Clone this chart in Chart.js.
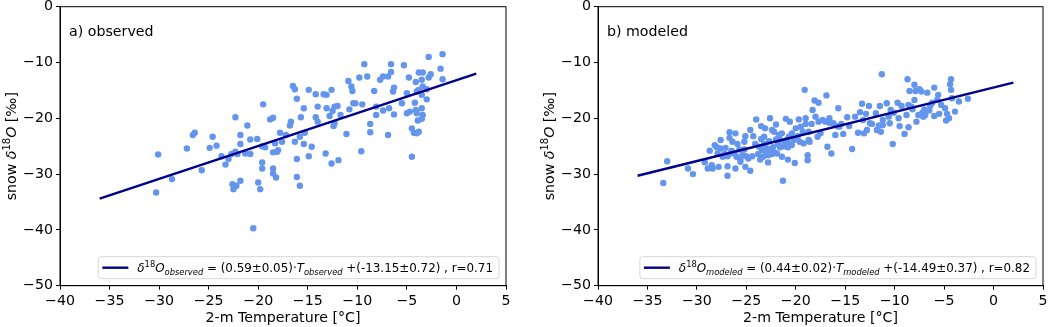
<!DOCTYPE html>
<html>
<head>
<meta charset="utf-8">
<script src="https://cdn.jsdelivr.net/npm/chart.js@4.4.1/dist/chart.umd.min.js"></script>
<style>
  body { margin: 0; background: #fff; }
  .panel { position: absolute; top: 0; width: 526px; height: 327px; }
</style>
</head>
<body>
<div class="panel" style="left:0"><canvas id="chartObserved"></canvas></div>
<div class="panel" style="left:526px"><canvas id="chartModeled"></canvas></div>
<script>
// axis ticks
var xTicks = [-40, -35, -30, -25, -20, -15, -10, -5, 0, 5];
var yTicks = [-50, -40, -30, -20, -10, 0];

// a) observed: 2-m temperature vs snow d18O
var obsT = [-30.3, -30.1, -28.7, -27.2, -26.6, -26.4, -25.7, -24.9, -24.6, -24.2, -23.7, -23.3, -23.0, -22.7, -22.6, -22.5, -22.3, -22.3, -22.2, -22.1,
  -21.8, -21.8, -21.8, -21.3, -21.1, -20.8, -20.8, -20.5, -20.1, -20.0, -19.8, -19.6, -19.6, -19.6, -19.5, -19.3, -18.8, -18.5, -18.5, -18.5,
  -18.5, -18.3, -18.1, -18.2, -18.0, -17.8, -17.6, -17.2, -16.8, -16.7, -16.5, -16.3, -16.3, -16.1, -16.1, -16.1, -15.8, -15.8, -15.7, -15.4,
  -15.4, -15.3, -14.9, -14.9, -14.6, -14.2, -14.2, -14.0, -14.0, -13.4, -13.2, -13.1, -13.1, -12.8, -12.6, -12.6, -12.5, -12.4, -12.3, -12.3,
  -12.0, -11.9, -11.7, -11.1, -10.9, -10.8, -10.6, -10.5, -10.4, -10.2, -9.8, -9.6, -9.5, -9.3, -9.0, -8.7, -8.7, -8.3, -8.1, -8.1,
  -7.7, -7.4, -7.4, -6.9, -6.9, -6.8, -6.6, -6.6, -6.4, -6.3, -6.3, -5.5, -5.3, -5.0, -5.0, -4.8, -4.7, -4.5, -4.5, -4.3,
  -4.2, -4.1, -4.1, -4.0, -4.0, -4.0, -3.9, -3.8, -3.8, -3.8, -3.5, -3.5, -3.5, -3.5, -3.4, -3.4, -3.4, -3.0, -3.0, -2.8,
  -2.8, -2.6, -1.6, -1.4, -1.4];
var obsD = [-33.3, -26.5, -30.9, -25.4, -23.0, -22.6, -29.3, -25.3, -23.3, -24.9, -26.8, -28.3, -27.3, -26.4, -31.8, -32.7, -26.0, -19.8, -32.1, -26.4,
  -23.0, -24.6, -31.2, -26.3, -21.3, -23.8, -26.4, -39.7, -23.7, -31.5, -32.7, -25.0, -27.9, -29.0, -17.5, -25.2, -20.2, -19.9, -29.0, -29.9,
  -26.1, -24.5, -26.0, -30.6, -25.7, -22.6, -24.2, -23.0, -21.3, -20.6, -14.2, -14.8, -24.2, -16.5, -30.5, -27.3, -23.3, -32.1, -19.8, -18.2,
  -24.6, -22.6, -14.9, -26.8, -25.1, -15.7, -19.8, -17.9, -20.6, -15.7, -26.3, -15.8, -18.2, -19.6, -14.9, -28.1, -18.7, -21.4, -20.9, -17.9,
  -17.8, -27.5, -19.4, -22.8, -13.3, -18.4, -14.3, -15.1, -17.3, -17.3, -12.7, -25.9, -17.5, -10.3, -12.5, -21.0, -22.5, -15.1, -17.9, -19.4,
  -13.1, -12.5, -18.6, -23.0, -12.5, -18.2, -10.3, -11.7, -15.2, -19.3, -14.5, -17.3, -10.5, -15.5, -19.1, -12.7, -18.8, -21.8, -26.9, -22.6,
  -17.2, -18.5, -13.5, -15.2, -19.1, -22.7, -20.4, -11.8, -14.9, -22.4, -13.1, -15.8, -18.2, -20.1, -11.8, -14.3, -19.4, -14.8, -16.6, -12.7,
  -9.0, -12.1, -11.1, -8.5, -13.0];
var obsFitT = [-36, 2];
var obsFitD = [-34.4, -12.0];

// b) modeled
var modT = [-33.4, -33.0, -30.9, -30.4, -29.2, -28.9, -28.7, -28.5, -28.4, -28.2, -28.0, -27.9, -27.8, -27.6, -27.6, -27.4, -27.2, -27.1, -26.9, -26.9,
  -26.9, -26.7, -26.7, -26.6, -26.5, -26.4, -26.2, -26.1, -26.1, -26.0, -25.9, -25.7, -25.6, -25.6, -25.4, -25.2, -25.2, -25.1, -25.1, -25.0,
  -24.8, -24.6, -24.6, -24.4, -24.3, -24.1, -24.0, -23.8, -23.7, -23.6, -23.5, -23.5, -23.4, -23.3, -23.2, -23.2, -23.1, -23.0, -23.0, -22.9,
  -22.8, -22.8, -22.7, -22.6, -22.5, -22.4, -22.4, -22.3, -22.2, -22.1, -22.0, -22.0, -21.9, -21.8, -21.7, -21.6, -21.6, -21.4, -21.4, -21.3,
  -21.2, -21.1, -21.0, -20.9, -20.8, -20.8, -20.7, -20.6, -20.5, -20.4, -20.4, -20.2, -20.1, -20.0, -19.8, -19.7, -19.6, -19.5, -19.3, -19.2,
  -19.1, -19.0, -19.0, -18.8, -18.8, -18.7, -18.7, -18.6, -18.4, -18.3, -18.1, -18.0, -17.8, -17.7, -17.7, -17.5, -17.3, -17.0, -16.9, -16.8,
  -16.6, -16.6, -16.4, -16.2, -16.0, -15.8, -15.7, -15.6, -15.4, -15.2, -14.8, -14.6, -14.3, -14.0, -13.7, -13.5, -13.3, -13.2, -13.1, -12.9,
  -12.8, -12.6, -12.5, -12.3, -11.9, -11.8, -11.6, -11.5, -11.4, -11.3, -11.2, -11.2, -10.8, -10.6, -10.5, -10.4, -10.2, -10.1, -9.7, -9.6,
  -9.5, -9.3, -9.0, -8.8, -8.7, -8.6, -8.6, -8.5, -8.3, -8.2, -8.0, -8.0, -7.9, -7.8, -7.6, -7.5, -7.3, -7.2, -7.1, -7.0,
  -6.9, -6.7, -6.5, -6.4, -6.2, -6.0, -6.0, -5.7, -5.6, -5.5, -5.3, -4.9, -4.8, -4.7, -4.5, -4.4, -4.3, -4.3, -4.2, -3.9,
  -3.5, -2.6];
var modD = [-31.6, -27.7, -29.0, -30.0, -27.9, -29.0, -25.8, -28.4, -29.0, -24.8, -25.2, -26.3, -28.7, -25.4, -23.9, -26.9, -26.4, -25.3, -30.3, -28.6,
  -26.8, -23.5, -22.5, -26.3, -25.8, -24.2, -26.2, -22.7, -29.0, -26.9, -24.6, -25.6, -27.4, -27.8, -26.6, -25.6, -24.2, -23.2, -28.7, -26.8,
  -27.2, -22.1, -29.4, -26.8, -23.2, -24.6, -20.2, -26.4, -25.1, -27.4, -23.7, -21.4, -25.7, -26.9, -24.6, -23.3, -21.8, -26.3, -26.0, -25.4,
  -27.9, -26.6, -24.1, -20.0, -26.0, -22.1, -26.4, -25.2, -22.4, -26.2, -21.1, -23.8, -26.3, -24.6, -23.0, -25.2, -23.9, -26.9, -22.7, -31.2,
  -25.0, -24.5, -20.1, -23.9, -25.2, -27.4, -23.3, -20.6, -24.6, -24.8, -22.7, -23.9, -28.0, -21.8, -23.2, -20.2, -24.2, -21.5, -22.4, -24.5,
  -14.9, -21.0, -20.0, -26.6, -27.5, -23.9, -22.4, -24.2, -21.0, -18.5, -16.8, -19.7, -23.3, -17.2, -20.6, -22.7, -20.3, -20.6, -15.9, -25.1,
  -20.0, -20.8, -26.3, -20.9, -23.0, -21.4, -18.2, -21.5, -21.0, -22.8, -19.8, -21.4, -25.5, -19.7, -22.6, -18.9, -17.4, -20.3, -22.7, -19.2,
  -22.1, -17.8, -20.9, -21.0, -19.1, -22.1, -21.3, -17.8, -22.4, -12.1, -20.3, -21.2, -17.3, -19.7, -20.9, -18.5, -24.6, -19.0, -17.2, -20.0,
  -21.4, -17.8, -22.8, -19.4, -13.0, -17.6, -21.6, -15.1, -17.9, -18.4, -16.7, -14.0, -15.1, -20.6, -19.4, -14.8, -15.2, -19.0, -19.7, -18.4,
  -19.4, -15.4, -18.6, -17.8, -17.2, -14.5, -19.6, -16.7, -15.8, -19.2, -17.6, -18.2, -20.4, -19.2, -20.0, -13.9, -14.9, -13.0, -16.4, -18.8,
  -17.0, -16.5];
var modFitT = [-36, 2];
var modFitD = [-30.3, -13.6];

var FONT = '"DejaVu Sans", "Liberation Sans", sans-serif';

function drawRuns(ctx, runs, x, y, fs, measureOnly) {
  var cx = x;
  runs.forEach(function(r) {
    var size = (r.sub || r.sup) ? fs * 0.7 : fs;
    var dy = r.sub ? fs * 0.28 : (r.sup ? -fs * 0.4 : 0);
    ctx.font = (r.it ? 'italic ' : '') + size + 'px ' + FONT;
    if (!measureOnly) ctx.fillText(r.t, cx, y + dy);
    cx += ctx.measureText(r.t).width;
  });
  return cx - x;
}

var yTitleRuns = [{t: 'snow '}, {t: 'δ', it: true}, {t: '18', sup: true}, {t: 'O', it: true}, {t: ' [‰]'}];

var panelDecor = {
  id: 'panelDecor',
  afterDraw: function(chart) {
    var o = chart.options.plugins.panelDecor;
    var ctx = chart.ctx;
    var ca = chart.chartArea;
    ctx.save();
    // box spines
    ctx.strokeStyle = '#000';
    ctx.lineWidth = 1;
    ctx.strokeRect(ca.left, ca.top, ca.right - ca.left, ca.bottom - ca.top);
    // panel label
    ctx.fillStyle = '#000';
    ctx.textBaseline = 'alphabetic';
    ctx.font = '14.2px ' + FONT;
    ctx.fillText(o.label, ca.left + 9, ca.top + 29);
    // y title
    var fsY = 14.2;
    var tw = drawRuns(ctx, yTitleRuns, 0, 0, fsY, true);
    ctx.save();
    ctx.translate(o.yTitleX, (ca.top + ca.bottom) / 2);
    ctx.rotate(-Math.PI / 2);
    drawRuns(ctx, yTitleRuns, -tw / 2, fsY * 0.36, fsY, false);
    ctx.restore();
    // legend
    var fs = 11.9;
    var lw = drawRuns(ctx, o.legendRuns, 0, 0, fs, true);
    var w = 4 + 26 + 9 + lw + 6, h = 22;
    var bx = ca.right - 7 - w, by = ca.bottom - 7 - h;
    ctx.beginPath();
    ctx.roundRect(bx, by, w, h, 3);
    ctx.fillStyle = 'rgba(255,255,255,0.8)';
    ctx.fill();
    ctx.strokeStyle = '#d6d6d6';
    ctx.stroke();
    ctx.beginPath();
    ctx.moveTo(bx + 4, by + h / 2);
    ctx.lineTo(bx + 30, by + h / 2);
    ctx.strokeStyle = '#00008b';
    ctx.lineWidth = 2.4;
    ctx.stroke();
    ctx.fillStyle = '#000';
    drawRuns(ctx, o.legendRuns, bx + 39, by + h / 2 + fs * 0.36, fs, false);
    ctx.restore();
  }
};

function minusTick(v) {
  return String(v).replace('-', '\u2212');
}

function makeChart(id, tx, dy, fitT, fitD, label, legendRuns, yWidth, padRight, yTitleX) {
  return new Chart(document.getElementById(id), {
    type: 'scatter',
    data: {
      datasets: [
        {
          type: 'line',
          data: fitT.map(function(t, i) { return {x: t, y: fitD[i]}; }),
          borderColor: '#00008b',
          borderWidth: 2.4,
          pointRadius: 0,
          order: 0
        },
        {
          data: tx.map(function(t, i) { return {x: t, y: dy[i]}; }),
          backgroundColor: '#6495ed',
          borderWidth: 0,
          pointRadius: 3.2,
          order: 1
        }
      ]
    },
    options: {
      animation: false,
      responsive: true,
      maintainAspectRatio: false,
      layout: { padding: { top: 0, right: padRight, left: 0, bottom: 0 } },
      plugins: {
        legend: { display: false },
        tooltip: { enabled: false },
        panelDecor: { label: label, legendRuns: legendRuns, yTitleX: yTitleX }
      },
      scales: {
        x: {
          type: 'linear',
          min: -40,
          max: 5,
          afterBuildTicks: function(s) { s.ticks = xTicks.map(function(v) { return {value: v}; }); },
          afterFit: function(s) { s.height = 41.3; },
          ticks: { color: '#000', font: { family: FONT, size: 14.2 }, padding: 3, maxRotation: 0, autoSkip: false, callback: minusTick },
          grid: { display: true, drawOnChartArea: false, drawTicks: true, tickLength: 4, color: '#000' },
          border: { display: true, color: '#000' },
          title: { display: true, text: '2-m Temperature [°C]', color: '#000', font: { family: FONT, size: 14.2 }, padding: { top: 2, bottom: 0 } }
        },
        y: {
          type: 'linear',
          min: -50,
          max: 0,
          afterBuildTicks: function(s) { s.ticks = yTicks.map(function(v) { return {value: v}; }); },
          afterFit: function(s) { s.width = yWidth; s.paddingTop = 6.7; s.paddingBottom = 0; },
          ticks: { color: '#000', font: { family: FONT, size: 14.2 }, padding: 3, autoSkip: false, callback: minusTick },
          grid: { display: true, drawOnChartArea: false, drawTicks: true, tickLength: 4, color: '#000' },
          border: { display: true, color: '#000' }
        }
      }
    },
    plugins: [panelDecor]
  });
}

var obsLegend = [{t: 'δ', it: true}, {t: '18', sup: true}, {t: 'O', it: true}, {t: 'observed', sub: true, it: true},
  {t: ' = (0.59±0.05)·'}, {t: 'T', it: true}, {t: 'observed', sub: true, it: true}, {t: ' +(-13.15±0.72) , r=0.71'}];
var modLegend = [{t: 'δ', it: true}, {t: '18', sup: true}, {t: 'O', it: true}, {t: 'modeled', sub: true, it: true},
  {t: ' = (0.44±0.02)·'}, {t: 'T', it: true}, {t: 'modeled', sub: true, it: true}, {t: ' +(-14.49±0.37) , r=0.82'}];

var chartObserved = makeChart('chartObserved', obsT, obsD, obsFitT, obsFitD, 'a) observed', obsLegend, 60, 20, 11);
var chartModeled = makeChart('chartModeled', modT, modD, modFitT, modFitD, 'b) modeled', modLegend, 72, 9, 23);
</script>
</body>
</html>
